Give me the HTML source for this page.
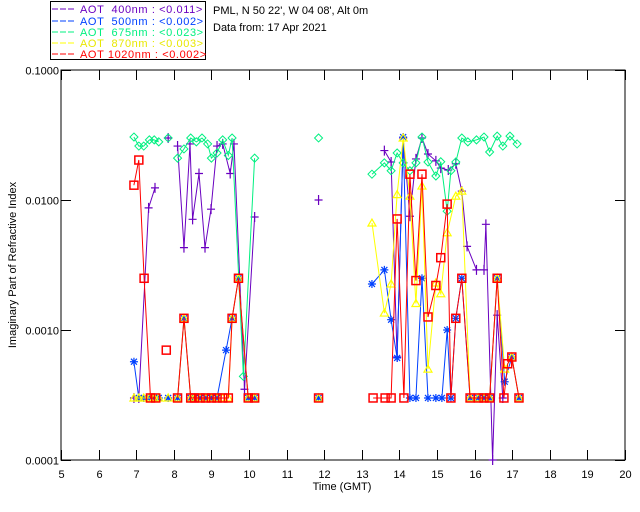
<!DOCTYPE html>
<html><head><meta charset="utf-8"><style>
body{margin:0;background:#fff;}
svg{display:block;font-family:"Liberation Sans",sans-serif;}
</style></head><body>
<svg id="chart" width="640" height="512">
<rect x="0" y="0" width="640" height="512" fill="#fff"/>
<g font-size="11" letter-spacing="0.6">
<rect x="50.5" y="1.5" width="155" height="58" fill="#fff" stroke="#000"/>
<g><line x1="52" y1="9" x2="74" y2="9" stroke="#6a00c0" stroke-dasharray="6,2"/><text x="80" y="13" fill="#6a00c0" xml:space="preserve">AOT  400nm : &lt;0.011&gt;</text></g>
<g><line x1="52" y1="21" x2="74" y2="21" stroke="#0040ff" stroke-dasharray="6,2"/><text x="80" y="25" fill="#0040ff" xml:space="preserve">AOT  500nm : &lt;0.002&gt;</text></g>
<g><line x1="52" y1="32" x2="74" y2="32" stroke="#00f080" stroke-dasharray="6,2"/><text x="80" y="36" fill="#00f080" xml:space="preserve">AOT  675nm : &lt;0.023&gt;</text></g>
<g><line x1="52" y1="43" x2="74" y2="43" stroke="#ffff00" stroke-dasharray="6,2"/><text x="80" y="47" fill="#e8e800" xml:space="preserve">AOT  870nm : &lt;0.003&gt;</text></g>
<g><line x1="52" y1="54" x2="74" y2="54" stroke="#ff0000" stroke-dasharray="6,2"/><text x="80" y="58" fill="#ff0000">AOT 1020nm : &lt;0.002&gt;</text></g>
</g>
<text x="213" y="14" font-size="11">PML, N 50 22', W 04 08', Alt 0m</text>
<text x="213" y="31" font-size="11">Data from: 17 Apr 2021</text>
<g id="axes"></g>
<g id="series"></g>
<text x="342" y="490" font-size="11" text-anchor="middle">Time (GMT)</text>
<text transform="translate(16,265) rotate(-90)" font-size="11" text-anchor="middle">Imaginary Part of Refractive Index</text>
</svg>
<script>
const xTicks=[5,6,7,8,9,10,11,12,13,14,15,16,17,18,19,20];
const yTicks=[0.1,0.01,0.001,0.0001];
const yTickLabels=["0.1000","0.0100","0.0010","0.0001"];
const F=0.0003;
const t400=[6.94,7.07,7.33,7.5,null,7.85,null,8.1,8.27,8.43,8.5,8.67,8.83,8.99,9.15,9.3,9.5,9.6,9.88,10.15,null,11.85,null,13.6,13.78,13.94,14.1,14.28,14.44,14.6,14.76,14.97,15.1,15.3,15.5,15.66,15.8,16.05,16.25,16.3,16.48,16.6,16.75];
const v400=[F,F,0.0087,0.0124,null,0.03,null,0.026,0.0043,0.027,0.0071,0.016,0.0043,0.0085,0.026,0.027,0.016,0.027,0.00035,0.0074,null,0.01,null,0.024,0.0196,0.00062,0.03,0.0075,0.0207,0.03,0.0226,0.02,0.0176,0.017,0.019,0.0117,0.0044,0.0029,0.0029,0.0065,0.0001,0.0013,F];
const t500=[6.94,7.07,7.2,7.35,7.48,7.6,null,7.85,null,8.1,8.27,8.45,8.55,8.7,8.85,9.0,9.15,9.39,9.55,9.72,9.98,10.15,null,11.85,null,13.27,13.6,13.78,13.94,14.1,14.28,14.44,14.6,14.76,14.97,15.13,15.27,15.37,15.5,15.66,15.88,16.1,16.25,16.4,16.6,16.8,16.99,17.18];
const v500=[0.00057,F,F,F,F,F,null,F,null,F,0.00123,F,F,F,F,F,F,0.0007,0.00123,0.0025,F,F,null,F,null,0.00226,0.0029,0.0012,0.00061,0.0305,F,F,0.0025,F,F,F,0.001,F,0.00123,0.0025,F,F,F,F,0.0025,0.0004,0.00062,F];
const t675=[6.94,7.07,7.2,7.35,7.48,7.6,null,7.85,null,8.1,8.27,8.45,8.6,8.75,8.9,9.0,9.15,9.3,9.45,9.55,9.85,10.15,null,11.85,null,13.27,13.6,13.78,13.94,14.1,14.28,14.44,14.6,14.76,14.97,15.1,15.27,15.37,15.5,15.66,15.82,16.05,16.25,16.4,16.6,16.75,16.94,17.13];
const v675=[0.0305,0.026,0.026,0.029,0.029,0.028,null,0.03,null,0.021,0.0247,0.03,0.028,0.03,0.027,0.021,0.023,0.029,0.022,0.03,0.00044,0.021,null,0.03,null,0.0158,0.0193,0.0168,0.023,0.0193,0.0168,0.0193,0.0305,0.0196,0.0153,0.0197,0.0082,0.0168,0.0196,0.03,0.028,0.029,0.0305,0.0234,0.031,0.026,0.031,0.027];
const t870=[6.94,7.07,7.2,7.35,7.48,7.6,null,7.85,null,8.1,8.27,8.45,8.55,8.7,8.85,9.0,9.15,9.3,9.45,9.55,9.72,9.98,10.15,null,11.85,null,13.27,13.6,13.78,13.94,14.1,14.28,14.44,14.6,14.76,14.97,15.1,15.27,15.5,15.66,15.88,16.1,16.25,16.4,16.6,16.8,16.99,17.18];
const v870=[F,F,F,F,F,F,null,F,null,F,0.00123,F,F,F,F,F,F,F,F,0.00123,0.0025,F,F,null,F,null,0.00665,0.00135,0.00226,0.011,0.03,0.0107,0.0016,0.0128,0.0005,0.0023,0.0019,0.0056,0.0107,0.0117,F,F,F,F,0.0025,0.0005,0.00062,F];
const t1020=[6.94,7.07,7.21,7.38,7.52,null,7.8,null,8.1,8.27,8.45,8.55,8.7,8.85,9.0,9.15,9.3,9.45,9.55,9.72,9.98,10.15,null,11.85,null,13.3,13.62,13.78,13.94,14.12,14.28,14.44,14.6,14.76,14.97,15.1,15.27,15.37,15.5,15.66,15.88,16.1,16.25,16.4,16.6,16.78,16.88,16.99,17.18];
const v1020=[0.013,0.0203,0.0025,F,F,null,0.0007,null,F,0.00123,F,F,F,F,F,F,F,F,0.00123,0.0025,F,F,null,F,null,F,F,F,0.00715,F,0.0158,0.0024,0.0158,0.00126,0.0022,0.0036,0.0093,F,0.00123,0.0025,F,F,F,F,0.0025,F,0.00055,0.00062,F];

const NS="http://www.w3.org/2000/svg";
const X0=61,X1=625,Y0=70,Y1=460;
function xs(t){return X0+(t-5)*(X1-X0)/15;}
function ys(v){return Y0-130*(Math.log10(v)+1);}
function mk(tag,at,parent){const e=document.createElementNS(NS,tag);for(const k in at)e.setAttribute(k,at[k]);parent.appendChild(e);return e;}
const axes=document.getElementById('axes');
const frame=mk('rect',{x:X0,y:Y0,width:X1-X0,height:Y1-Y0,fill:'none',stroke:'#000','stroke-width':1},axes);


xTicks.forEach(t=>{
  const x=Math.round(xs(t))+0.5;
  const tb=mk('line',{x1:x,y1:Y1,x2:x,y2:Y1-10,stroke:'#000'},axes);
  
  
  const tt=mk('line',{x1:x,y1:Y0,x2:x,y2:Y0+10,stroke:'#000'},axes);
  
  
  const lb=mk('text',{x:x,y:Y1+18,'font-size':11,'text-anchor':'middle'},axes);
  lb.textContent=t;
  
  
});
yTicks.forEach((v,i)=>{
  const y=Math.round(ys(v))+0.5;
  const tl=mk('line',{x1:X0,y1:y,x2:X0+10,y2:y,stroke:'#000'},axes);
  
  
  const tr=mk('line',{x1:X1,y1:y,x2:X1-10,y2:y,stroke:'#000'},axes);
  
  
  const lb=mk('text',{x:X0-2,y:y+4,'font-size':11,'text-anchor':'end'},axes);
  lb.textContent=yTickLabels[i];
  
  
});
const ser=document.getElementById('series');
function drawSeries(ts,vs,col,marker,name){
  const g=mk('g',{},ser);
  
  
  let d='',pen=false;
  for(let i=0;i<ts.length;i++){
    if(ts[i]===null||vs[i]===null){pen=false;continue;}
    d+=(pen?'L':'M')+xs(ts[i]).toFixed(1)+' '+ys(vs[i]).toFixed(1);pen=true;
  }
  const p=mk('path',{d:d,fill:'none',stroke:col,'stroke-width':1},g);
  
  
  for(let i=0;i<ts.length;i++){
    if(ts[i]===null||vs[i]===null)continue;
    const x=xs(ts[i]),y=ys(vs[i]);let m;
    if(marker==='plus')m=mk('path',{d:`M${x-4} ${y}H${x+4}M${x} ${y-5}V${y+5}`,stroke:col,fill:'none','stroke-width':1.2},g);
    else if(marker==='star')m=mk('path',{d:`M${x-4} ${y}H${x+4}M${x} ${y-4}V${y+4}M${x-3} ${y-3}L${x+3} ${y+3}M${x-3} ${y+3}L${x+3} ${y-3}`,stroke:col,fill:'none','stroke-width':1.2},g);
    else if(marker==='diamond')m=mk('path',{d:`M${x} ${y-4}L${x+4} ${y}L${x} ${y+4}L${x-4} ${y}Z`,stroke:col,fill:'none','stroke-width':1},g);
    else if(marker==='tri')m=mk('path',{d:`M${x} ${y-4}L${x+4} ${y+3}L${x-4} ${y+3}Z`,stroke:col,fill:'none','stroke-width':1.2},g);
    else m=mk('rect',{x:x-4,y:y-4,width:8,height:8,stroke:col,fill:'none','stroke-width':1.5},g);
    
    
  }
}
drawSeries(t400,v400,'#6a00c0','plus','aot-400');
drawSeries(t500,v500,'#0040ff','star','aot-500');
drawSeries(t675,v675,'#00f080','diamond','aot-675');
drawSeries(t870,v870,'#ffff00','tri','aot-870');
drawSeries(t1020,v1020,'#ff0000','square','aot-1020');
</script>
</body></html>
